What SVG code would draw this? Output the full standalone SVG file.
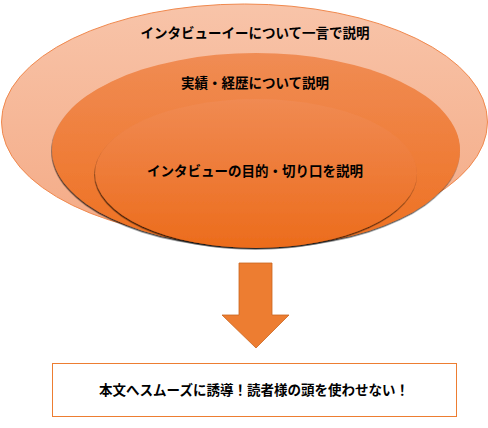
<svg xmlns="http://www.w3.org/2000/svg" width="488" height="428" viewBox="0 0 488 428">
<defs>
<linearGradient id="gOuter" x1="0" y1="0" x2="0" y2="1">
<stop offset="0" stop-color="#F8C4A9"/>
<stop offset="1" stop-color="#F4AA85"/>
</linearGradient>
<linearGradient id="gMid" x1="0" y1="0" x2="0" y2="1">
<stop offset="0" stop-color="#F08C54"/>
<stop offset="1" stop-color="#EE7020"/>
</linearGradient>
<linearGradient id="gIn" x1="0" y1="0" x2="0" y2="1">
<stop offset="0" stop-color="#F08A52"/>
<stop offset="1" stop-color="#EC6C1C"/>
</linearGradient>
<filter id="sh" x="-10%" y="-10%" width="120%" height="125%">
<feDropShadow dx="-0.5" dy="1.5" stdDeviation="0.6" flood-color="#000" flood-opacity="0.75"/>
</filter>
</defs>
<style>
.t{font-family:"Noto Sans CJK JP","Noto Sans CJK SC",sans-serif;font-weight:bold;font-size:13.5px;fill:#000;text-anchor:middle}
</style>
<g id="outer">
<ellipse cx="244.5" cy="122" rx="243" ry="118" fill="url(#gOuter)" stroke="#F0894E" stroke-width="1"/>
<text class="t" x="255" y="38">インタビューイーについて一言で説明</text>
</g>
<g id="middle">
<ellipse cx="256" cy="150" rx="204" ry="97" fill="url(#gMid)" filter="url(#sh)"/>
<text class="t" x="255" y="88">実績・経歴について説明</text>
</g>
<g id="inner">
<ellipse cx="256" cy="173.5" rx="161" ry="74.5" fill="url(#gIn)" filter="url(#sh)"/>
<text class="t" x="255" y="176">インタビューの目的・切り口を説明</text>
</g>
<g id="connectors">
<path d="M239,263 L272,263 L272,315 L289,315 L256,348 L222,315 L239,315 Z" fill="#ED7D31" stroke="#C9651F" stroke-width="0.8"/>
</g>
<g id="box">
<rect x="52.5" y="363.5" width="404" height="53" fill="#FFFFFF" stroke="#ED7D31" stroke-width="1"/>
<text class="t" x="254" y="395">本文へスムーズに誘導！読者様の頭を使わせない！</text>
</g>
</svg>
